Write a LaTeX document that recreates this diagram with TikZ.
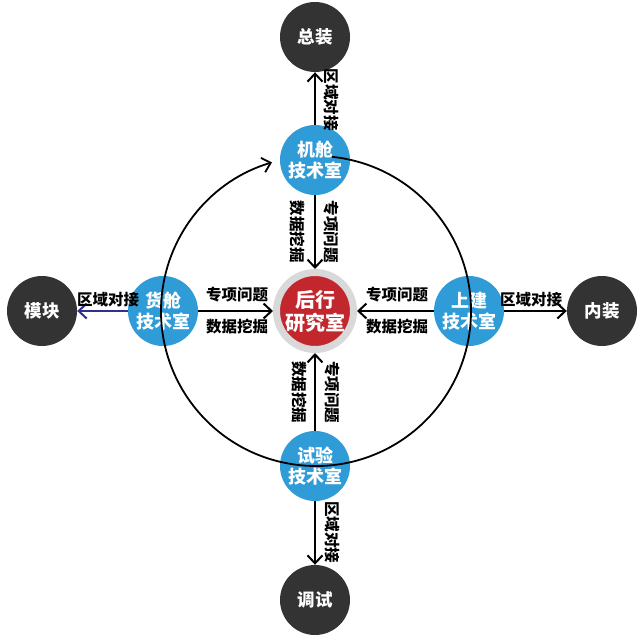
\documentclass[tikz,border=0pt]{standalone}
\usepackage{fontspec}
\setmainfont{Noto Sans CJK SC}
\usetikzlibrary{arrows.meta}
\definecolor{darkc}{RGB}{51,51,51}
\definecolor{bluec}{RGB}{47,155,215}
\definecolor{redc}{RGB}{193,39,45}
\definecolor{ringc}{RGB}{217,217,217}
\definecolor{navyc}{RGB}{46,49,146}
\begin{document}
\begin{tikzpicture}[x=1pt,y=1pt,
  darknode/.style={circle, fill=darkc, minimum size=70pt, inner sep=0pt, text=white, font=\bfseries\fontsize{17.5}{20}\selectfont},
  technode/.style={circle, fill=bluec, minimum size=70pt, inner sep=0pt, text=white, align=center, font=\bfseries\fontsize{18}{21}\selectfont},
  centernode/.style={circle, fill=redc, draw=ringc, line width=7pt, minimum size=77pt, inner sep=0pt, text=white, align=center, font=\bfseries\fontsize{20}{23}\selectfont},
  lbl/.style={font=\bfseries\fontsize{15.5}{17}\selectfont, inner sep=0pt},
  vlbl/.style={lbl, rotate=-90},
  arr/.style={-{Straight Barb[length=8pt,width=15pt]}, line width=2pt}]
\useasboundingbox (0,0) rectangle (644,635);
\fill[white] (0,0) rectangle (644,635);
\node[darknode] (zz) at (315,598) {总装};
\node[technode] (jc) at (315,475) {机舱\\技术室};
\node[centernode] (hx) at (315,324) {后行\\研究室};
\node[technode] (hc) at (163,324) {货舱\\技术室};
\node[darknode] (mk) at (42,324) {模块};
\node[technode] (sj) at (469,324) {上建\\技术室};
\node[darknode] (nz) at (602,324) {内装};
\node[technode] (sy) at (315,169) {试验\\技术室};
\node[darknode] (ts) at (315,35) {调试};
\draw[arr] (jc) -- (zz);
\draw[arr] (jc) -- (hx);
\draw[arr] (sy) -- (hx);
\draw[arr] (sy) -- (ts);
\draw[arr] (hc) -- (hx);
\draw[arr, navyc] (hc) -- (mk);
\draw[arr] (sj) -- (hx);
\draw[arr] (sj) -- (nz);
\coordinate (cc) at (316,324);
\draw[arr, line width=1.8pt] ([shift={(84:155)}]cc) arc[start angle=84, end angle=-253.5, radius=155];
\node[vlbl] (l1) at (331,535) {区域对接};
\node[vlbl] (l2) at (297,403) {数据挖掘};
\node[vlbl] (l3) at (331,403) {专项问题};
\node[vlbl] (l4) at (299,243) {数据挖掘};
\node[vlbl] (l5) at (332,243) {专项问题};
\node[vlbl] (l6) at (332,103) {区域对接};
\node[lbl] (l7) at (237,340) {专项问题};
\node[lbl] (l8) at (237,308) {数据挖掘};
\node[lbl] (l9) at (397,340) {专项问题};
\node[lbl] (l10) at (397,308) {数据挖掘};
\node[lbl] (l11) at (531,335) {区域对接};
\node[lbl] (l12) at (108,335) {区域对接};
\end{tikzpicture}
\end{document}
